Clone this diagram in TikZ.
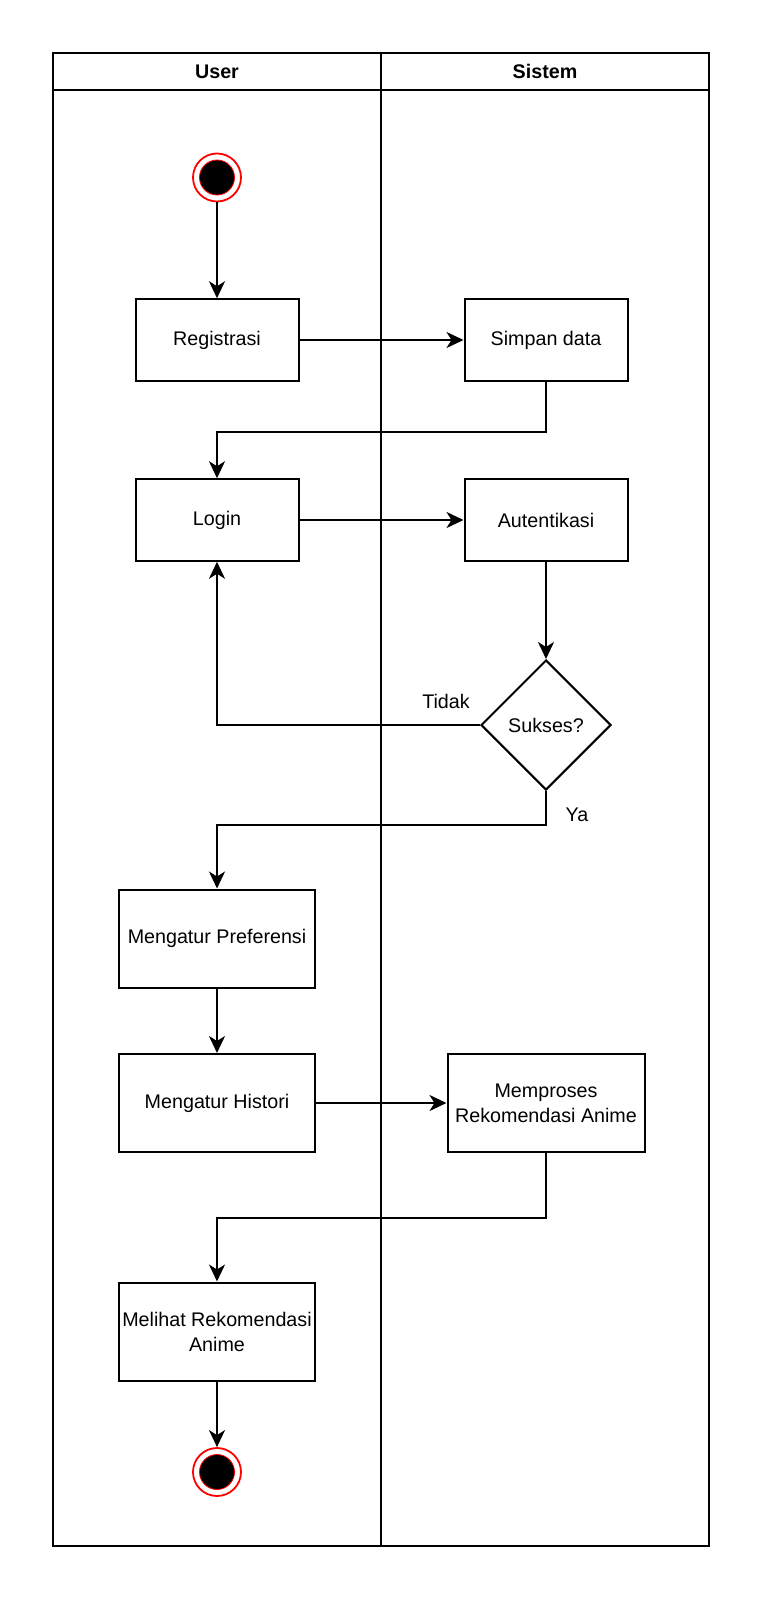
\documentclass[tikz,border=0pt]{standalone}
\usepackage{fontspec}
\setmainfont{Liberation Sans}
\usetikzlibrary{arrows.meta,shapes.geometric}
\def\flowfont{\fontsize{19.7}{25}\selectfont}

\begin{document}
\begin{tikzpicture}[x=1pt,y=-1pt,
		act/.style={draw,line width=2pt,minimum width=163pt,minimum height=81.5pt,inner sep=2pt,align=center,font=\flowfont},
		wideact/.style={act,minimum width=196pt,minimum height=98pt},
		terminal/.style={circle,draw=red,line width=1.8pt,minimum size=48pt,inner sep=0pt,fill=white,
			path picture={\fill[black,draw=red,line width=0.8pt] (path picture bounding box.center) circle (17.5pt);}},
		decision/.style={diamond,draw,line width=2pt,minimum size=130pt,aspect=1,inner sep=0pt,font=\flowfont},
		flow/.style={line width=2pt,-{Stealth[length=17pt,width=16pt,inset=5pt]}},
		lanetitle/.style={font=\flowfont\bfseries},
		guard/.style={font=\flowfont}]
				\useasboundingbox (0,0) rectangle (763,1600);
				
				\draw[line width=2pt] (53,53) rectangle (709,1546);
				\draw[line width=2pt] (53,90) -- (709,90);
				\draw[line width=2pt] (381,53) -- (381,1546);
				\node[lanetitle] (user) at (217,71.5) {User};
				\node[lanetitle] (sistem) at (545,71.5) {Sistem};
				
				\node[terminal] (start) at (217,177.5) {};
				\node[act] (registrasi) at (217,340) {Registrasi};
				\node[act] (simpan) at (546,340) {Simpan data};
				\node[act] (login) at (217,520) {Login};
				\node[act] (autentikasi) at (546,520) {Autentikasi};
				\node[decision] (sukses) at (546,725) {Sukses?};
				\node[wideact] (preferensi) at (217,938.5) {Mengatur Preferensi};
				\node[wideact] (histori) at (217,1103) {Mengatur Histori};
				\node[wideact,minimum width=197pt] (proses) at (546,1103) {Memproses\\Rekomendasi Anime};
				\node[wideact] (lihat) at (217,1331.5) {Melihat Rekomendasi\\Anime};
				\node[terminal] (finish) at (217,1472) {};
				
				\draw[flow] (start) -- (registrasi);
				\draw[flow] (registrasi) -- (simpan);
				\draw[flow] (simpan.south) -- ++(0,50) -| (login.north);
				\draw[flow] (login) -- (autentikasi);
				\draw[flow] (autentikasi.south) -- (sukses.north);
				\draw[flow] (sukses.west) -| (login.south);
				\draw[flow] (sukses.south) -- ++(0,34) -| (preferensi.north);
				\draw[flow] (preferensi) -- (histori);
				\draw[flow] (histori) -- (proses);
				\draw[flow] (proses.south) -- ++(0,65) -| (lihat.north);
				\draw[flow] (lihat) -- (finish);
				
				\node[guard] (tidak) at (446,701) {Tidak};
				\node[guard] (ya) at (577,815) {Ya};
			\end{tikzpicture}
\end{document}
